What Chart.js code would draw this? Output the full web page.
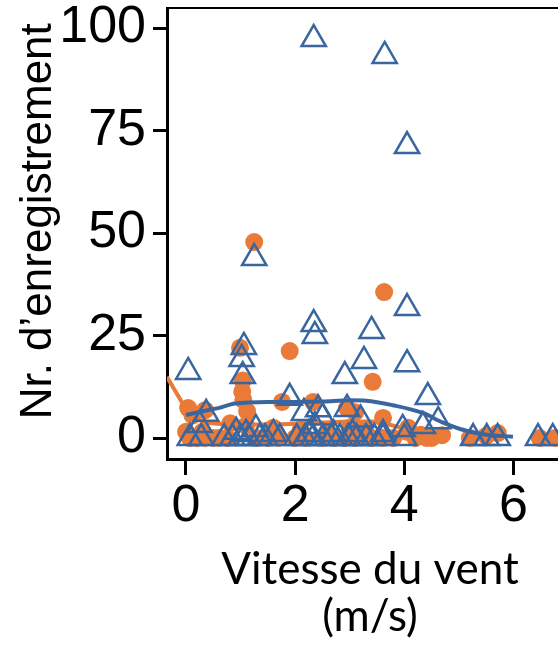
<!DOCTYPE html>
<html><head><meta charset="utf-8">
<script src="https://cdn.jsdelivr.net/npm/chart.js@4"></script>
<style>html,body{margin:0;padding:0;background:#fff;overflow:hidden}#wrap{width:558px;height:646px;overflow:hidden;position:relative}canvas{display:block}</style>
</head><body><div id="wrap"><canvas id="c" width="573" height="646" style="width:573px;height:646px"></canvas></div>
<script>
const xTicks = [0, 2, 4, 6];
const yTicks = [0, 25, 50, 75, 100];

const orangeX = [0.04,0.12,0.35,0.0,0.07,0.2,0.35,0.5,0.3,0.6,0.75,0.81,0.99,1.04,1.03,1.05,1.12,1.1,1.25,1.3,1.5,1.6,1.7,1.76,1.9,2.0,2.1,2.2,2.33,2.5,2.6,2.7,2.9,2.95,3.0,3.1,3.1,3.28,3.42,3.4,3.61,3.61,3.63,3.8,4.05,4.07,4.2,4.3,4.41,4.5,4.69,5.2,5.5,5.71,6.48,6.76];
const orangeY = [7.3,5.5,6.8,1.5,0,0,0,0,1.5,0,0,3.6,22.0,14.0,11.3,9.3,6.5,3,47.8,0,0,2.5,0,8.8,21.2,0,2,0,8.8,0,1.5,0,0,7.3,2.5,6.3,0,2,13.7,0,4.9,0,35.6,0,1.5,2.5,0,0.8,0,0,0.7,0,0.5,1.2,0,0];

const blueX = [2.34,3.64,4.05,1.25,4.05,2.34,2.36,3.40,1.06,1.02,1.04,3.26,4.05,0.04,2.91,4.43,1.9,2.95,2.42,2.5,2.16,0.37,0.25,3.2,4.62,4.34,2.36,3.97,1.28,0.92,3.61,1.1,1.6,2.25,2.7,3.05,0.07,0.28,0.7,0.85,1.0,1.15,1.35,1.45,1.72,2.03,2.18,2.33,2.51,2.67,2.82,2.97,3.13,3.3,3.45,3.61,4.0,5.26,5.51,5.71,6.45,6.72];
const blueY = [97.3,93.2,71.2,43.9,31.7,27.8,24.9,26.1,22.2,19.3,15.1,18.8,18.0,16.1,15.1,10.0,9.8,7.1,7.0,5.0,6.1,5.9,3.2,4.5,4.1,2.9,2.9,2.2,2.2,1.5,1.0,1,1,1,1,1,0,0,0,0,0,0,0,0,0,0,0,0,0,0,0,0,0,0,0,0,0,0,0,0,0,0];

const orangeLineX = [-0.35,-0.22,-0.1,0.0,0.15,0.4,1.0,1.5,2.0,2.5,3.0,3.4,3.8,4.2,4.65];
const orangeLineY = [14.9,12,9.3,7,5,3.8,3.3,3.3,3.5,3.8,4.0,4.0,3.0,1.7,1.0];

const blueLineX = [0.0,0.3,0.59,0.9,1.5,2.0,2.5,3.0,3.3,3.79,4.34,4.7,5.02,5.44,5.99];
const blueLineY = [5.6,6.5,7.3,8.4,8.8,8.8,8.9,9.2,9.1,8.0,6.1,3.8,2.2,0.9,0.3];

const ORANGE = 'rgb(233,122,56)';
const BLUE = 'rgb(58,102,160)';
const pts = (xs, ys) => xs.map((x, i) => ({x, y: ys[i]}));

const topBorder = {
  id: 'topBorder',
  afterDraw(chart) {
    const {ctx, chartArea} = chart;
    ctx.save();
    ctx.strokeStyle = '#000';
    ctx.lineWidth = 2;
    ctx.beginPath();
    ctx.moveTo(chartArea.left, chartArea.top);
    ctx.lineTo(chartArea.right, chartArea.top);
    ctx.stroke();
    ctx.restore();
  }
};

new Chart(document.getElementById('c'), {
  type: 'scatter',
  data: {
    datasets: [
      {
        label: 'blue smooth', data: pts(blueLineX, blueLineY), showLine: true,
        borderColor: BLUE, borderWidth: 4, pointRadius: 0, cubicInterpolationMode: 'monotone', fill: false
      },
      {
        label: 'blue', data: pts(blueX, blueY), pointStyle: 'triangle', pointRadius: 14,
        pointBorderColor: BLUE, pointBackgroundColor: 'rgba(0,0,0,0)', pointBorderWidth: 2.5
      },
      {
        label: 'orange smooth', data: pts(orangeLineX, orangeLineY), showLine: true,
        borderColor: ORANGE, borderWidth: 4, pointRadius: 0, cubicInterpolationMode: 'monotone', fill: false
      },
      {
        label: 'orange', data: pts(orangeX, orangeY), pointStyle: 'circle', pointRadius: 9,
        pointBorderWidth: 0, pointBackgroundColor: ORANGE, pointBorderColor: ORANGE
      }
    ]
  },
  options: {
    responsive: false, animation: false, devicePixelRatio: 1,
    layout: {autoPadding: false, padding: {top: 8, left: 0, right: 0, bottom: 0}},
    plugins: {legend: {display: false}, tooltip: {enabled: false}},
    scales: {
      x: {
        type: 'linear', min: -0.348, max: 7.09,
        afterBuildTicks: s => { s.ticks = xTicks.map(v => ({value: v})); },
        afterFit: s => { s.height = 187; s.paddingLeft = 0; s.paddingRight = 0; },
        grid: {display: true, drawOnChartArea: false, drawTicks: true, tickLength: 16, tickWidth: 3, tickColor: '#000'},
        border: {display: true, color: '#000', width: 3},
        ticks: {color: '#000', font: {family: 'Liberation Sans', size: 52}, padding: 0, maxRotation: 0},
        title: {display: true, text: ['Vitesse du vent', '(m/s)'], color: '#000',
          font: {family: 'Lato', size: 44, lineHeight: 1.07}, padding: {top: 0, bottom: 6}}
      },
      y: {
        type: 'linear', min: -5.12, max: 104.88,
        afterBuildTicks: s => { s.ticks = yTicks.map(v => ({value: v})); },
        afterFit: s => { s.width = 167; s.paddingTop = 0; s.paddingBottom = 0; },
        grid: {display: true, drawOnChartArea: false, drawTicks: true, tickLength: 14, tickWidth: 3, tickColor: '#000'},
        border: {display: true, color: '#000', width: 3},
        ticks: {color: '#000', font: {family: 'Liberation Sans', size: 52}, padding: 7},
        title: {display: true, text: '  Nr. d’enregistrement', color: '#000',
          font: {family: 'Liberation Sans', size: 44, lineHeight: 1.2}, padding: {top: 12, bottom: 0}}
      }
    }
  },
  plugins: [topBorder]
});
</script>
</body></html>
